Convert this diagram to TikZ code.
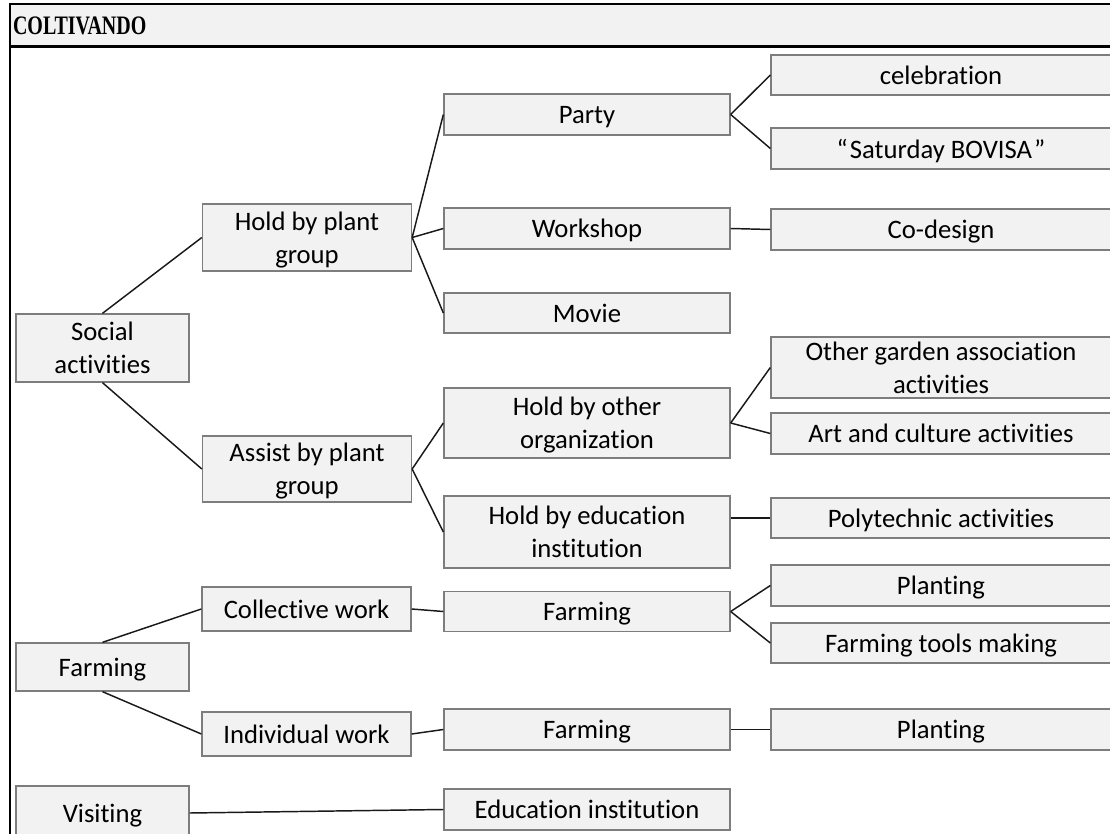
\documentclass[tikz,border=0pt]{standalone}
\usepackage{fontspec}
\setmainfont{Carlito}[Ligatures=NoCommon]
\newfontfamily\headfont{Liberation Serif}

\definecolor{boxfill}{RGB}{242,242,242}
\definecolor{boxline}{RGB}{125,125,125}

\tikzset{every picture/.style={line width=0.75pt}}
\tikzset{
  box/.style={draw=boxline, fill=boxfill, line width=1pt, inner sep=0.75pt, align=center,
    text depth=0pt, font=\fontsize{20}{24.5}\selectfont},
  colA/.style={box, minimum width=129.75pt},
  colB/.style={box, minimum width=156.75pt},
  colC/.style={box, minimum width=214.5pt},
  colD/.style={box, minimum width=255pt},
  link/.style={draw={rgb,255:red,25;green,25;blue,25}, line width=1.1pt},
}

\begin{document}
\begin{tikzpicture}[x=0.75pt,y=0.75pt,yscale=-1,xscale=1]
\useasboundingbox (0,0) rectangle (1110,834);
\clip (0,0) rectangle (1110,834);

%Shape: Header band
\fill [boxfill] (10,4) rectangle (1110,46.5);
\draw [line width=2pt] (1110,4) -- (10,4) -- (10,834);
\draw [line width=2pt] (10,46.5) -- (1110,46.5);
% Text Node
\node [anchor=base west, inner sep=0pt, font=\headfont\bfseries\fontsize{20}{22}\selectfont] (title) at (12.5,35) {\scalebox{0.75}[1]{COLTIVANDO}};

% Social activities
\node [colA, minimum height=51pt] (social) at (102.5,348) {Social\\activities};
\node [colB, minimum height=50.25pt] (holdplant) at (307,237.5) {Hold by plant\\group};
\node [colB, minimum height=49.5pt] (assist) at (307,469) {Assist by plant\\group};

\node [colC, minimum height=30.75pt] (party) at (587,114.5) {Party};
\node [colC, minimum height=30.75pt] (workshop) at (587,228.5) {Workshop};
\node [colC, minimum height=30pt] (movie) at (587,313) {Movie};
\node [colC, minimum height=52.5pt] (holdother) at (587,423) {Hold by other\\organization};
\node [colC, minimum height=54pt] (holdedu) at (587,532) {Hold by education\\institution};

\node [colD, minimum height=30pt] (celebration) at (941,75) {celebration};
\node [colD, minimum height=30.75pt] (saturday) at (941,148.5) {“\kern1.5pt Saturday BOVISA\kern1.5pt”};
\node [colD, minimum height=30.75pt] (codesign) at (941,229.5) {Co-design};
\node [colD, minimum height=45.75pt] (othergarden) at (941,367.5) {Other garden association\\activities};
\node [colD, minimum height=30.75pt] (art) at (941,433.5) {Art and culture activities};
\node [colD, minimum height=30pt] (poly) at (941,518) {Polytechnic activities};

% Farming
\node [colA, minimum height=36pt] (farming) at (102.5,667) {Farming};
\node [colB, minimum height=33pt] (collective) at (306.5,609) {Collective work};
\node [colB, minimum height=33pt] (individual) at (306.5,734) {Individual work};
\node [colC, minimum height=30pt] (farmA) at (587,611.5) {Farming};
\node [colC, minimum height=30.75pt] (farmB) at (587,729.5) {Farming};
\node [colD, minimum height=30.75pt] (plantA) at (941,585.5) {Planting};
\node [colD, minimum height=30pt] (tools) at (941,643) {Farming tools making};
\node [colD, minimum height=30.75pt] (plantB) at (941,729.5) {Planting};

% Visiting
\node [colA, minimum height=40.5pt] (visiting) at (102.5,813) {Visiting};
\node [colC, minimum height=30.75pt] (edu) at (587,809.5) {Education institution};

%Straight Lines
\draw [link] (social.north) -- (holdplant.west);
\draw [link] (social.south) -- (assist.west);
\draw [link] (holdplant.east) -- (party.west);
\draw [link] (holdplant.east) -- (workshop.west);
\draw [link] (holdplant.east) -- (movie.west);
\draw [link] (party.east) -- (celebration.west);
\draw [link] (party.east) -- (saturday.west);
\draw [link] (workshop.east) -- (codesign.west);
\draw [link] (assist.east) -- (holdother.west);
\draw [link] (assist.east) -- (holdedu.west);
\draw [link] (holdother.east) -- (othergarden.west);
\draw [link] (holdother.east) -- (art.west);
\draw [link] (poly.west -| holdedu.east) -- (poly.west);
%Straight Lines
\draw [link] (farming.north) -- (collective.west);
\draw [link] (farming.south) -- (individual.west);
\draw [link] (collective.east) -- (farmA.west);
\draw [link] (individual.east) -- (farmB.west);
\draw [link] (farmA.east) -- (plantA.west);
\draw [link] (farmA.east) -- (tools.west);
\draw [link] (farmB.east) -- (plantB.west);
\draw [link] (visiting.east) -- (edu.west);

\end{tikzpicture}
\end{document}
